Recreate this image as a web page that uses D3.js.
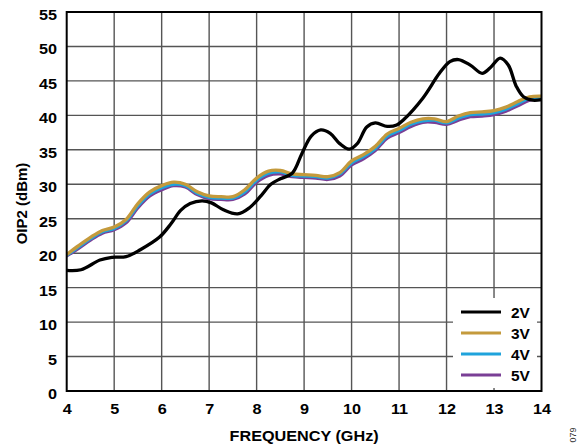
<!DOCTYPE html>
<html><head><meta charset="utf-8">
<script src="https://cdn.jsdelivr.net/npm/d3@7"></script>
<style>
body{margin:0;background:#fff;}
svg{display:block;font-family:"Liberation Sans",Arial,sans-serif;}
</style></head>
<body><svg id="c" width="587" height="446"></svg>
<script>
// ---- data ----
const xTicks = [4,5,6,7,8,9,10,11,12,13,14];
const yTicks = [0,5,10,15,20,25,30,35,40,45,50,55];
const seriesNames = ["2V","3V","4V","5V"];
const seriesColors = ["#000000","#c49a3c","#1fa3dc","#7a3f96"];

const freq2V = [4.0,4.3,4.7,4.95,5.25,5.55,5.95,6.2,6.4,6.6,6.85,7.05,7.3,7.6,7.85,8.1,8.3,8.5,8.75,8.95,9.15,9.35,9.55,9.75,9.95,10.12,10.32,10.5,10.75,10.95,11.1,11.5,11.85,12.07,12.25,12.5,12.75,12.92,13.13,13.3,13.47,13.62,13.82,14.0];
const oip2V = [17.5,17.6,19.0,19.4,19.5,20.5,22.3,24.3,26.2,27.2,27.6,27.3,26.3,25.7,26.6,28.4,30.0,30.8,31.6,34.4,37.0,37.9,37.4,35.9,35.1,35.9,38.3,38.9,38.4,38.6,39.4,42.5,46.1,47.8,48.1,47.3,46.1,46.9,48.3,47.3,44.2,42.7,42.2,42.3];

const freqBundle = [4.0,4.25,4.5,4.75,5.0,5.25,5.5,5.75,6.0,6.25,6.5,6.75,7.0,7.25,7.5,7.75,8.0,8.25,8.5,8.75,9.0,9.25,9.5,9.75,10.0,10.25,10.5,10.75,11.0,11.25,11.5,11.75,12.0,12.25,12.5,12.75,13.0,13.25,13.5,13.75,14.0];
const oip3V = [19.8,21.1,22.3,23.3,23.8,24.9,27.2,28.9,29.8,30.3,30.0,28.9,28.3,28.2,28.2,29.2,30.9,31.9,32.0,31.5,31.4,31.3,31.1,31.7,33.4,34.3,35.5,37.3,38.1,39.0,39.5,39.5,39.1,39.9,40.4,40.5,40.7,41.2,42.0,42.7,42.8];
const oip4V = [19.7,20.9,22.1,23.1,23.6,24.7,26.9,28.6,29.5,30.0,29.8,28.7,28.1,28.0,28.0,28.9,30.6,31.6,31.8,31.3,31.2,31.1,30.9,31.5,33.1,34.0,35.2,37.0,37.8,38.7,39.2,39.3,38.9,39.6,40.1,40.2,40.4,40.9,41.7,42.5,42.6];
const oip5V = [19.6,20.7,21.9,22.9,23.4,24.4,26.6,28.3,29.2,29.8,29.6,28.5,27.9,27.8,27.8,28.6,30.3,31.3,31.5,31.1,31.0,30.9,30.7,31.2,32.8,33.7,34.9,36.7,37.5,38.4,39.0,39.0,38.7,39.3,39.8,39.9,40.1,40.6,41.4,42.2,42.3];

// ---- layout ----
const L = 66.7, R = 541.5, T = 12, B = 391;
const SX = 1.08;
const svg = d3.select("#c");
const x = d3.scaleLinear().domain([4,14]).range([L,R]);
const y = d3.scaleLinear().domain([0,55]).range([B,T]);

// grid
const grid = svg.append("g").attr("stroke","#555").attr("stroke-width",1.4);
grid.selectAll("line.v").data(xTicks.slice(1,-1)).join("line")
  .attr("x1",d=>x(d)).attr("x2",d=>x(d)).attr("y1",T).attr("y2",B);
grid.selectAll("line.h").data(yTicks.slice(1,-1)).join("line")
  .attr("x1",L).attr("x2",R).attr("y1",d=>y(d)).attr("y2",d=>y(d));

// axes (labels only, ticks as grid)
const xAxis = svg.append("g").attr("transform",`translate(0,${B})`)
  .call(d3.axisBottom(x).tickValues(xTicks).tickSize(0).tickPadding(12).tickFormat(d3.format("d")));
const yAxis = svg.append("g").attr("transform",`translate(${L},0)`)
  .call(d3.axisLeft(y).tickValues(yTicks).tickSize(0).tickPadding(9).tickFormat(d3.format("d")));
[xAxis,yAxis].forEach(a=>{
  a.select(".domain").remove();
  a.selectAll("text").attr("font-family","Liberation Sans, Arial, sans-serif")
   .attr("font-size",15).attr("font-weight","bold").attr("fill","#000")
   .attr("transform",`scale(${SX},1)`);
});
yAxis.selectAll("text").attr("dy","0.5em");

// lines
svg.append("clipPath").attr("id","clip").append("rect")
  .attr("x",L).attr("y",T).attr("width",R-L).attr("height",B-T);
const line = d3.line().x(d=>x(d[0])).y(d=>y(d[1])).curve(d3.curveCatmullRom.alpha(0.5));
const series = [
  {name:"5V", f:freqBundle, v:oip5V, c:seriesColors[3]},
  {name:"4V", f:freqBundle, v:oip4V, c:seriesColors[2]},
  {name:"3V", f:freqBundle, v:oip3V, c:seriesColors[1]},
  {name:"2V", f:freq2V, v:oip2V, c:seriesColors[0]}
];
const lg = svg.append("g").attr("clip-path","url(#clip)");
series.forEach(s=>{
  lg.append("path").datum(s.f.map((f,i)=>[f,s.v[i]]))
    .attr("d",line).attr("fill","none").attr("stroke",s.c)
    .attr("stroke-width",3.3).attr("stroke-linejoin","round").attr("stroke-linecap","round");
});

// legend
const leg = svg.append("g");
leg.append("rect").attr("x",453).attr("y",298).attr("width",84).attr("height",90).attr("fill","#fff");
seriesNames.forEach((n,i)=>{
  const yy = 312 + i*21;
  leg.append("line").attr("x1",461).attr("x2",501).attr("y1",yy).attr("y2",yy)
    .attr("stroke",seriesColors[i]).attr("stroke-width",3);
  leg.append("text").attr("transform",`translate(511,${yy+5.5}) scale(1.03,1)`).text(n)
    .attr("font-size",15).attr("font-weight","bold");
});

// frame
svg.append("rect").attr("x",L).attr("y",T).attr("width",R-L).attr("height",B-T)
  .attr("fill","none").attr("stroke","#000").attr("stroke-width",2);

// titles
svg.append("text").attr("transform",`translate(${(L+R)/2},441) scale(${SX},1)`).attr("text-anchor","middle")
  .attr("font-size",15).attr("font-weight","bold").text("FREQUENCY (GHz)");
svg.append("text").attr("transform",`translate(27,${(T+B)/2+2}) rotate(-90)`).attr("text-anchor","middle")
  .attr("font-size",15).attr("font-weight","bold").text("OIP2 (dBm)");
svg.append("text").attr("transform","translate(576,435) rotate(-90)").attr("text-anchor","middle")
  .attr("font-size",9).attr("fill","#333").text("079");
</script></body></html>
